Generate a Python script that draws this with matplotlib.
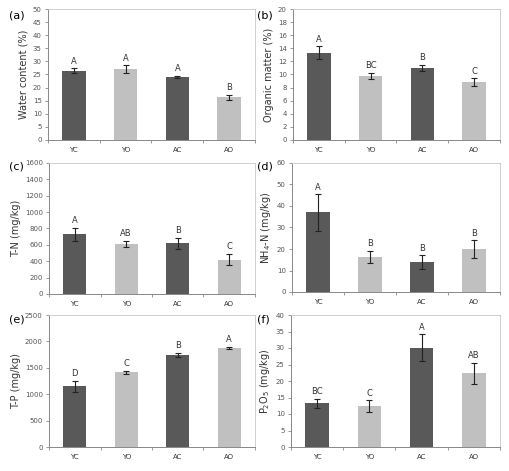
import numpy as np
import matplotlib.pyplot as plt

# grupos
groups = ['YC', 'YO', 'AC', 'AO']

# (a) contenido de agua
water = [26.5, 27.0, 24.0, 16.3]
water_err = [0.8, 1.5, 0.5, 1.0]
water_sig = ['A', 'A', 'A', 'B']

# (b) materia organica
om = [13.3, 9.8, 11.0, 8.8]
om_err = [1.0, 0.5, 0.5, 0.6]
om_sig = ['A', 'BC', 'B', 'C']

# (c) T-N
tn = [730, 615, 620, 420]
tn_err = [80, 35, 65, 70]
tn_sig = ['A', 'AB', 'B', 'C']

# (d) NH4-N
nh4 = [37.0, 16.5, 13.8, 20.0]
nh4_err = [8.5, 2.8, 3.2, 4.0]
nh4_sig = ['A', 'B', 'B', 'B']

# (e) T-P
tp = [1150, 1415, 1745, 1875]
tp_err = [100, 25, 40, 25]
tp_sig = ['D', 'C', 'B', 'A']

# (f) P2O5
p2o5 = [13.2, 12.4, 30.1, 22.3]
p2o5_err = [1.4, 1.8, 4.0, 3.2]
p2o5_sig = ['BC', 'C', 'A', 'AB']

colors = ['#595959', '#c0c0c0', '#595959', '#c0c0c0']

panels = [
    ('(a)', 'Water content (%)', water, water_err, water_sig, 50, 5),
    ('(b)', 'Organic matter (%)', om, om_err, om_sig, 20, 2),
    ('(c)', 'T-N (mg/kg)', tn, tn_err, tn_sig, 1600, 200),
    ('(d)', 'NH$_4$-N (mg/kg)', nh4, nh4_err, nh4_sig, 60, 10),
    ('(e)', 'T-P (mg/kg)', tp, tp_err, tp_sig, 2500, 500),
    ('(f)', 'P$_2$O$_5$ (mg/kg)', p2o5, p2o5_err, p2o5_sig, 40, 5),
]

W, H = 510, 471
fig = plt.figure(figsize=(W / 100, H / 100), dpi=100)

# posiciones en pixeles: (izq, arriba, der, abajo)
boxes = [
    (48, 9, 255, 140), (293, 9, 500, 140),
    (49, 163, 255, 294), (292, 163, 500, 292),
    (49, 315, 255, 447), (291, 315, 500, 447),
]
# esquina de la etiqueta del panel (x, y) en pixeles
tag_pos = [(9, 10), (257, 10), (9, 162), (257, 162), (9, 314), (257, 314)]

x = np.arange(len(groups))
for (tag, ylabel, vals, errs, sig, ymax, step), (l, t, r, b), (tx, ty) in zip(panels, boxes, tag_pos):
    ax = fig.add_axes([l / W, 1 - b / H, (r - l) / W, (b - t) / H])
    ax.bar(x, vals, width=0.45, color=colors, zorder=2)
    ax.errorbar(x, vals, yerr=errs, fmt='none', ecolor='#222222',
                elinewidth=0.8, capsize=2, capthick=0.8, zorder=3)
    for xi, v, e, s in zip(x, vals, errs, sig):
        ax.text(xi, v + e + ymax * 0.02, s, ha='center', va='bottom',
                fontsize=6, color='#333333')
    ax.set_xlim(-0.5, 3.5)
    ax.set_ylim(0, ymax)
    ax.set_yticks(np.arange(0, ymax + step, step))
    ax.set_xticks(x)
    ax.set_xticklabels(groups)
    ax.set_xticks(np.arange(-0.5, 4, 1), minor=True)
    ax.tick_params(axis='x', which='major', length=0, labelsize=5,
                   labelcolor='#333333', pad=5)
    ax.tick_params(axis='x', which='minor', length=2.5, color='#888888',
                   width=0.6)
    ax.tick_params(axis='y', length=2.5, color='#888888', width=0.6,
                   labelsize=5, labelcolor='#555555', pad=2)
    for side in ['top', 'right']:
        ax.spines[side].set_color('#c8c8c8')
        ax.spines[side].set_linewidth(0.6)
    for side in ['left', 'bottom']:
        ax.spines[side].set_color('#888888')
        ax.spines[side].set_linewidth(0.7)
    ax.set_ylabel(ylabel, fontsize=7, color='#333333', labelpad=3)
    fig.text(tx / W, 1 - ty / H, tag, fontsize=8, ha='left', va='top')

fig.savefig('out.png', dpi=100)
